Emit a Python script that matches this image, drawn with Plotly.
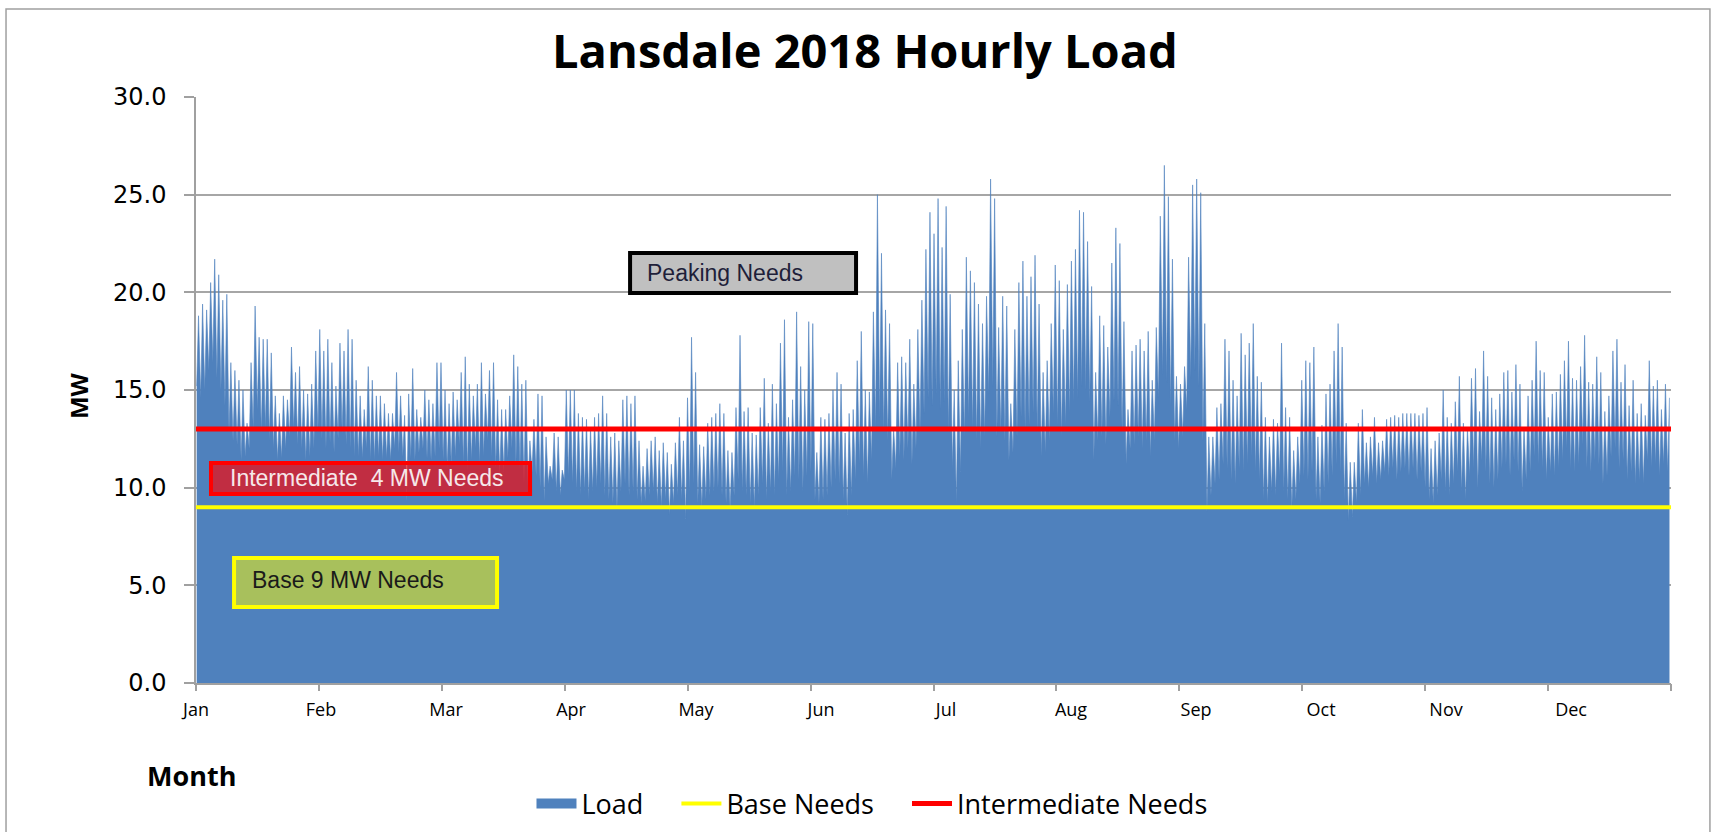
import plotly.graph_objects as go

# ---------------- data (MW) ----------------
MONTHS = ["Jan", "Feb", "Mar", "Apr", "May", "Jun",
          "Jul", "Aug", "Sep", "Oct", "Nov", "Dec"]

# daily peak load (MW)
jan_peak = [18.8, 19.4, 19.1, 20.5, 21.7, 20.9, 19.6, 19.9, 16.4, 16.0, 15.5, 15.0, 13.3, 16.4, 19.3, 17.7,
            17.6, 17.6, 16.9, 14.7, 13.8, 14.7, 14.5, 17.2, 15.9, 16.2, 15.0, 14.8, 15.3, 17.0, 18.1]
feb_peak = [17.0, 17.6, 16.4, 15.2, 17.4, 17.0, 18.1, 17.6, 15.5, 14.7, 14.0, 16.2, 15.5, 14.7,
            14.7, 14.3, 13.8, 13.8, 15.9, 14.7, 13.7, 14.8, 16.1, 14.0, 13.6, 15.0, 14.5, 14.3]
mar_peak = [16.4, 16.4, 15.0, 14.3, 14.9, 14.5, 15.9, 16.7, 15.3, 14.7, 15.3, 16.4, 14.8, 16.0, 16.4, 14.5,
            14.0, 14.0, 14.7, 16.8, 16.2, 15.3, 15.5, 12.4, 13.5, 14.8, 14.7, 12.6, 11.1, 12.8, 12.6]
apr_peak = [10.9, 15.0, 15.0, 15.0, 13.8, 13.6, 13.5, 13.1, 13.6, 13.8, 14.7, 13.8, 12.6, 12.8, 12.4,
            14.5, 14.7, 14.3, 14.7, 12.4, 11.1, 12.0, 12.4, 12.6, 11.9, 12.3, 11.8, 11.2, 12.3, 13.6]
may_peak = [12.4, 14.6, 17.7, 15.9, 12.2, 12.1, 13.3, 13.6, 13.8, 14.3, 13.8, 11.9, 11.8, 14.1, 17.8, 13.9,
            14.1, 12.8, 12.7, 14.1, 15.6, 13.3, 15.3, 14.3, 17.4, 18.6, 13.6, 14.5, 19.0, 16.2, 15.0]
jun_peak = [18.5, 18.4, 11.8, 13.6, 13.5, 13.8, 15.0, 15.9, 15.3, 12.8, 13.8, 14.0, 16.5, 18.0, 15.0,
            14.9, 19.0, 25.0, 22.0, 19.1, 18.4, 13.1, 16.4, 16.7, 16.4, 17.6, 15.3, 18.1, 19.6, 22.2]
jul_peak = [24.1, 23.0, 24.8, 22.3, 24.4, 19.9, 15.0, 16.5, 18.1, 21.8, 21.1, 20.5, 19.4, 18.4, 19.8, 25.8,
            24.8, 18.2, 19.8, 19.3, 14.3, 18.1, 20.5, 21.6, 19.8, 20.8, 21.9, 19.4, 15.9, 16.5, 18.4]
aug_peak = [21.4, 20.6, 18.1, 20.4, 21.6, 22.2, 24.2, 24.1, 22.6, 20.3, 15.9, 18.8, 18.3, 17.2, 21.5, 23.3,
            22.5, 18.5, 14.0, 17.0, 17.3, 17.6, 17.0, 18.0, 15.5, 18.2, 23.9, 26.5, 24.9, 21.7, 15.7]
sep_peak = [15.3, 16.2, 21.8, 25.5, 25.8, 25.1, 18.4, 12.6, 12.6, 14.1, 14.3, 17.6, 17.0, 15.5, 14.7,
            17.9, 16.8, 17.4, 18.4, 15.7, 15.4, 13.6, 12.6, 13.5, 13.3, 17.4, 14.1, 13.6, 11.9, 12.6]
oct_peak = [15.5, 16.5, 16.4, 17.2, 12.6, 13.2, 14.8, 15.3, 17.0, 18.4, 17.2, 13.3, 11.3, 11.3, 13.3, 14.0,
            12.3, 12.6, 13.6, 12.3, 12.4, 13.5, 13.6, 13.7, 13.6, 13.8, 13.8, 13.8, 13.8, 13.7, 13.8]
nov_peak = [14.1, 12.0, 12.4, 12.8, 15.0, 13.6, 13.3, 14.4, 15.7, 13.3, 13.1, 15.6, 16.1, 13.9, 17.0,
            15.7, 14.6, 14.0, 14.8, 15.9, 16.0, 14.9, 16.3, 15.3, 13.1, 14.7, 15.5, 17.5, 16.0, 15.9]
dec_peak = [13.6, 14.8, 14.9, 15.8, 16.5, 17.5, 15.6, 15.5, 16.2, 17.8, 15.4, 15.3, 16.7, 15.9, 13.9, 14.7,
            17.0, 17.6, 15.4, 16.3, 14.2, 15.5, 13.8, 14.3, 13.7, 16.5, 15.2, 15.5, 14.0, 15.3, 14.6]

# daily overnight minimum load (MW)
jan_low = [15.2, 14.6, 15.0, 16.0, 16.4, 15.6, 15.0, 14.2, 12.8, 12.4, 12.2, 11.4, 11.6, 12.0, 13.0, 14.0,
           12.8, 13.0, 12.4, 12.0, 11.4, 11.5, 12.0, 12.6, 13.0, 12.2, 12.0, 11.4, 11.6, 12.0, 12.8]
feb_low = [12.5, 12.0, 12.3, 11.8, 12.5, 12.8, 12.2, 12.0, 11.6, 11.6, 11.5, 12.0, 11.4, 11.4,
           11.6, 11.4, 11.5, 11.4, 12.0, 11.8, 11.6, 9.3, 11.5, 11.4, 11.8, 12.0, 11.5, 11.4]
mar_low = [11.6, 12.0, 11.4, 11.0, 11.2, 11.6, 12.2, 11.2, 10.8, 11.4, 12.0, 11.2, 11.6, 12.4, 11.6, 11.0,
           10.6, 10.8, 11.5, 12.0, 11.2, 11.0, 10.2, 10.0, 10.8, 10.6, 10.0, 9.3, 10.2, 10.4, 9.8]
apr_low = [9.6, 10.4, 10.6, 10.2, 9.8, 9.6, 9.8, 9.4, 9.8, 10.0, 10.2, 9.6, 9.4, 9.2, 8.9,
           9.8, 10.2, 9.6, 9.8, 9.4, 9.2, 9.3, 9.6, 9.8, 9.2, 9.0, 9.4, 8.6, 9.2, 9.6]
may_low = [9.4, 8.4, 9.8, 10.2, 9.2, 9.0, 9.4, 9.6, 9.8, 10.0, 9.6, 9.2, 8.9, 9.6, 10.4, 9.8,
           9.6, 9.2, 9.0, 9.6, 10.2, 9.4, 9.8, 9.6, 10.4, 10.8, 9.6, 9.8, 10.6, 10.4, 9.8]
jun_low = [10.6, 10.8, 9.4, 9.2, 9.4, 9.6, 10.0, 10.4, 10.2, 9.4, 8.6, 9.6, 10.4, 11.2, 10.6,
           10.2, 11.4, 13.0, 13.6, 12.8, 12.4, 10.4, 11.0, 11.6, 11.4, 12.0, 11.2, 12.0, 12.8, 13.8]
jul_low = [14.6, 14.2, 14.8, 14.0, 14.4, 12.8, 11.0, 9.2, 10.8, 12.6, 13.6, 13.0, 12.4, 12.0, 12.6, 14.8,
           15.2, 12.6, 12.8, 12.4, 11.4, 11.8, 12.6, 13.6, 13.0, 13.2, 13.8, 12.8, 11.6, 11.8, 12.4]
aug_low = [13.8, 13.2, 12.6, 13.2, 13.8, 14.4, 14.6, 15.2, 15.0, 14.4, 11.4, 12.4, 12.6, 12.2, 13.6, 14.4,
           14.2, 12.8, 11.2, 12.0, 12.2, 12.6, 12.0, 12.4, 11.6, 12.4, 14.6, 15.8, 15.4, 14.2, 12.4]
sep_low = [12.0, 12.6, 14.0, 15.6, 16.0, 15.2, 12.4, 8.8, 9.6, 10.2, 10.4, 11.2, 11.0, 10.4, 10.2,
           11.0, 10.8, 11.2, 11.6, 10.8, 10.4, 9.4, 9.2, 9.8, 9.6, 10.6, 9.8, 9.4, 8.9, 9.4]
oct_low = [10.2, 10.6, 10.4, 10.8, 9.4, 9.2, 9.8, 10.2, 10.6, 11.2, 10.8, 9.4, 8.3, 8.5, 9.2, 9.6,
           10.2, 10.0, 10.6, 10.2, 10.4, 10.8, 10.6, 11.0, 10.4, 10.8, 11.0, 10.6, 11.0, 10.4, 10.8]
nov_low = [10.0, 9.4, 9.2, 9.6, 10.4, 9.8, 9.6, 10.2, 10.8, 9.8, 9.4, 10.6, 11.0, 9.9, 11.4,
           10.8, 10.2, 10.0, 10.4, 11.0, 11.2, 10.6, 11.4, 10.8, 9.8, 10.4, 10.8, 11.6, 11.2, 11.0]
dec_low = [10.4, 10.8, 10.6, 11.0, 11.4, 12.0, 11.0, 10.8, 11.2, 12.2, 11.0, 10.8, 11.4, 11.2, 10.2, 10.6,
           11.6, 12.0, 11.0, 11.4, 10.4, 10.8, 10.2, 10.4, 10.2, 11.4, 11.0, 11.2, 10.6, 11.2, 10.8]

BASE_NEEDS = 9.0            # MW
INTERMEDIATE_BLOCK = 4.0    # MW on top of base
HOURS_IN_YEAR = 8760

daily_peak = (jan_peak + feb_peak + mar_peak + apr_peak + may_peak + jun_peak +
              jul_peak + aug_peak + sep_peak + oct_peak + nov_peak + dec_peak)
daily_low = (jan_low + feb_low + mar_low + apr_low + may_low + jun_low +
             jul_low + aug_low + sep_low + oct_low + nov_low + dec_low)

# hour-of-year series: overnight minimum and afternoon peak of each day
hours, load = [], []
for d, (lo, hi) in enumerate(zip(daily_low, daily_peak)):
    hours += [24 * d + 4, 24 * d + 15]
    load += [lo, hi]

intermediate_level = BASE_NEEDS + INTERMEDIATE_BLOCK

# ---------------- figure ----------------
BLUE = "#4f81bd"
GRAY = "#a0a0a0"
FONT = "Open Sans"
PAD = "&nbsp;" * 4

fig = go.Figure()
fig.add_trace(go.Scatter(
    x=hours, y=load, name="Load", mode="lines", fill="tozeroy",
    line=dict(color=BLUE, width=0.6), fillcolor=BLUE, hoverinfo="skip",
    showlegend=False, legendgroup="load"))
# legend swatch for the load area
fig.add_trace(go.Scatter(
    x=[None], y=[None], name="Load" + PAD, mode="lines",
    line=dict(color=BLUE, width=15), legendgroup="load"))
fig.add_trace(go.Scatter(
    x=[0, HOURS_IN_YEAR], y=[BASE_NEEDS, BASE_NEEDS], name="Base Needs" + PAD,
    mode="lines", line=dict(color="#ffff00", width=4), xaxis="x2"))
fig.add_trace(go.Scatter(
    x=[0, HOURS_IN_YEAR], y=[intermediate_level, intermediate_level],
    name="Intermediate Needs", mode="lines",
    line=dict(color="#ff0000", width=5), xaxis="x2"))

month_len = HOURS_IN_YEAR / 12
label_step = month_len * 1.017

fig.update_layout(
    width=1725, height=832, autosize=False,
    margin=dict(l=196, r=54, t=97, b=149, autoexpand=False),
    paper_bgcolor="white", plot_bgcolor="white",
    font=dict(family=FONT, color="black"),
    title=dict(text="<b>Lansdale 2018 Hourly Load</b>", x=0.5014, xref="container",
               xanchor="center", y=0.9375, yref="container", yanchor="middle",
               font=dict(family=FONT, size=47, color="black")),
    showlegend=True,
    legend=dict(orientation="h", xref="container", yref="container",
                x=0.5055, xanchor="center", y=0.0337, yanchor="middle",
                font=dict(family=FONT, size=27, color="black"),
                itemwidth=40, tracegroupgap=0, bgcolor="rgba(0,0,0,0)"),
    xaxis=dict(range=[0, HOURS_IN_YEAR], tickmode="array",
               tickvals=[i * label_step for i in range(12)], ticktext=MONTHS,
               ticks="", showgrid=False, zeroline=False, showline=True,
               linecolor=GRAY, linewidth=1.5, ticklabelstandoff=10,
               tickfont=dict(family=FONT, size=18, color="black")),
    xaxis2=dict(range=[0, HOURS_IN_YEAR], overlaying="x", anchor="y", side="bottom",
                tickmode="array", tickvals=[i * month_len for i in range(13)],
                showticklabels=False, ticks="outside", ticklen=7, tickwidth=1.5,
                tickcolor=GRAY, showgrid=False, zeroline=False, showline=False),
    yaxis=dict(range=[0, 30], tickmode="linear", tick0=0, dtick=5, tickformat=".1f",
               ticks="outside", ticklen=10, tickwidth=1.5, tickcolor=GRAY,
               showgrid=True, gridcolor="#a6a6a6", gridwidth=1.5, zeroline=False,
               showline=True, linecolor=GRAY, linewidth=1.5, ticklabelstandoff=13,
               tickfont=dict(family="DejaVu Sans", size=24, color="black")),
)

# outer chart border
fig.add_shape(type="rect", xref="paper", yref="paper",
              x0=-0.1288, x1=1.0264, y0=-0.30, y1=1.150,
              line=dict(color="#a0a0a0", width=1.5), fillcolor="rgba(0,0,0,0)", layer="below")

# callout boxes (data coordinates: hours, MW)
boxes = [
    dict(x0=2578, x1=3920, y0=19.97, y1=22.01, fill="#c0c0c0", line="#000000",
         text="Peaking Needs", tx=2667, ty=20.99, tcolor="#1f1f3a", size=23),
    dict(x0=89, x1=1984, y0=9.68, y1=11.26, fill="rgba(255,0,0,0.65)", line="#ff0000",
         text="Intermediate&nbsp;&nbsp;4 MW Needs", tx=190, ty=10.47, tcolor="#f6e8ea", size=23),
    dict(x0=226, x1=1788, y0=3.89, y1=6.40, fill="#a8c05c", line="#ffff00",
         text="Base 9 MW Needs", tx=321, ty=5.27, tcolor="#1a1a1a", size=23),
]
for b in boxes:
    fig.add_shape(type="rect", xref="x", yref="y", x0=b["x0"], x1=b["x1"],
                  y0=b["y0"], y1=b["y1"], fillcolor=b["fill"],
                  line=dict(color=b["line"], width=4), layer="above")
    fig.add_annotation(x=b["tx"], y=b["ty"], xref="x", yref="y", text=b["text"],
                       showarrow=False, xanchor="left", yanchor="middle",
                       font=dict(family="Liberation Sans", size=b["size"], color=b["tcolor"]))

# axis titles
fig.add_annotation(text="<b>MW</b>", xref="paper", yref="paper", x=-0.0793, y=0.4898,
                   textangle=-90, showarrow=False, xanchor="center", yanchor="middle",
                   font=dict(family=FONT, size=24, color="black"))
fig.add_annotation(text="<b>Month</b>", xref="paper", yref="paper", x=-0.0346, y=-0.1587,
                   showarrow=False, xanchor="left", yanchor="middle",
                   font=dict(family=FONT, size=27, color="black"))

fig.write_html("out.html", config={"displayModeBar": False},
               post_script="document.body.style.margin='0';document.body.style.overflow='hidden';")
